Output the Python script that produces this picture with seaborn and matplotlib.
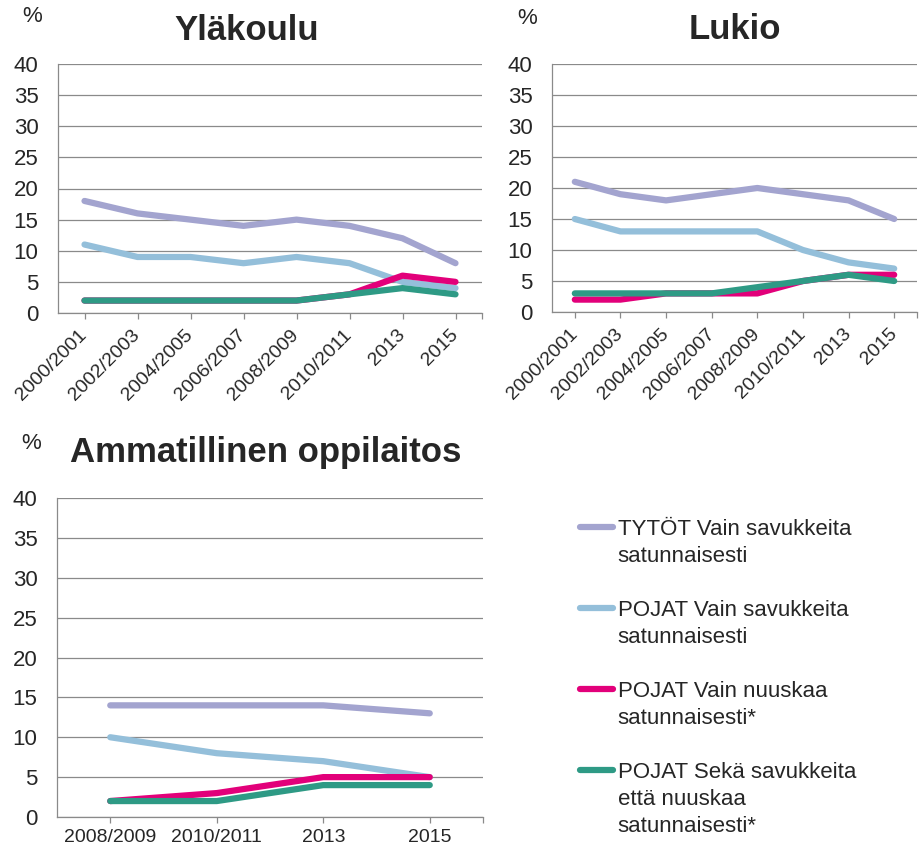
import numpy as np
import pandas as pd
import matplotlib
matplotlib.use("Agg")
import matplotlib.pyplot as plt
from matplotlib.lines import Line2D
import seaborn as sns

# --- values (%) ---
years_long = ["2000/2001", "2002/2003", "2004/2005", "2006/2007",
              "2008/2009", "2010/2011", "2013", "2015"]
years_short = ["2008/2009", "2010/2011", "2013", "2015"]

series_names = [
    "TYTÖT Vain savukkeita satunnaisesti",
    "POJAT Vain savukkeita satunnaisesti",
    "POJAT Vain nuuskaa satunnaisesti*",
    "POJAT Sekä savukkeita että nuuskaa satunnaisesti*",
]
legend_rows = [
    ["TYTÖT Vain savukkeita", "satunnaisesti"],
    ["POJAT Vain savukkeita", "satunnaisesti"],
    ["POJAT Vain nuuskaa", "satunnaisesti*"],
    ["POJAT Sekä savukkeita", "että nuuskaa", "satunnaisesti*"],
]
series_colors = ["#A3A4CF", "#94BFDA", "#E2007A", "#2E9A85"]

ylakoulu_tytot = [18, 16, 15, 14, 15, 14, 12, 8]
ylakoulu_pojat_savuke = [11, 9, 9, 8, 9, 8, 5, 4]
ylakoulu_pojat_nuuska = [2, 2, 2, 2, 2, 3, 6, 5]
ylakoulu_pojat_molemmat = [2, 2, 2, 2, 2, 3, 4, 3]

lukio_tytot = [21, 19, 18, 19, 20, 19, 18, 15]
lukio_pojat_savuke = [15, 13, 13, 13, 13, 10, 8, 7]
lukio_pojat_nuuska = [2, 2, 3, 3, 3, 5, 6, 6]
lukio_pojat_molemmat = [3, 3, 3, 3, 4, 5, 6, 5]

amm_tytot = [14, 14, 14, 13]
amm_pojat_savuke = [10, 8, 7, 5]
amm_pojat_nuuska = [2, 3, 5, 5]
amm_pojat_molemmat = [2, 2, 4, 4]

y_ticks = [0, 5, 10, 15, 20, 25, 30, 35, 40]


def long_frame(categories, series_values):
    rows = []
    for name, values in zip(series_names, series_values):
        for i, (cat, v) in enumerate(zip(categories, values)):
            rows.append({"pos": i, "year": cat, "series": name, "value": v})
    return pd.DataFrame(rows)


sns.set_theme(style="white")
plt.rcParams["font.family"] = ["Liberation Sans", "DejaVu Sans"]
text_col = "#262626"
grid_col = "#8A8A8A"
palette = dict(zip(series_names, series_colors))

fig = plt.figure(figsize=(9.22, 8.49), dpi=100)
W, H = 922, 849


def px_axes(left, top, right, bottom):
    return fig.add_axes([left / W, 1 - bottom / H, (right - left) / W, (bottom - top) / H])


def draw_panel(ax, categories, series_values, rotate):
    df = long_frame(categories, series_values)
    sns.lineplot(data=df, x="pos", y="value", hue="series", hue_order=series_names,
                 palette=palette, linewidth=4.5, legend=False, ax=ax,
                 solid_capstyle="round", solid_joinstyle="round")
    n = len(categories)
    ax.set_xlim(-0.5, n - 0.5)
    ax.set_ylim(0, 40)
    ax.set_yticks(y_ticks)
    ax.yaxis.grid(True, color=grid_col, linewidth=0.9)
    ax.set_axisbelow(True)
    for side in ["top", "right"]:
        ax.spines[side].set_visible(False)
    for side in ["left", "bottom"]:
        ax.spines[side].set_color(grid_col)
        ax.spines[side].set_linewidth(0.9)
    ax.set_xlabel("")
    ax.set_ylabel("")
    ax.tick_params(axis="y", length=0, pad=14, labelsize=16, labelcolor=text_col)
    ax.set_xticks(range(n))
    ax.set_xticks([n - 0.5], minor=True)
    ax.tick_params(axis="x", which="both", direction="out", length=4, width=0.9,
                   color=grid_col, bottom=True)
    if rotate:
        ax.set_xticklabels(categories, rotation=45, ha="right", va="center",
                           rotation_mode="anchor", fontsize=14, color=text_col)
        ax.tick_params(axis="x", pad=10)
    else:
        ax.set_xticklabels(categories, fontsize=14, color=text_col)
        ax.tick_params(axis="x", pad=5)


ax1 = px_axes(58, 64, 482, 313)
draw_panel(ax1, years_long, [ylakoulu_tytot, ylakoulu_pojat_savuke,
                             ylakoulu_pojat_nuuska, ylakoulu_pojat_molemmat], True)
ax1.set_title("Yläkoulu", fontsize=25, fontweight="bold", color=text_col, x=0.446, pad=17)

ax2 = px_axes(552, 64, 917, 312)
draw_panel(ax2, years_long, [lukio_tytot, lukio_pojat_savuke,
                             lukio_pojat_nuuska, lukio_pojat_molemmat], True)
ax2.set_title("Lukio", fontsize=25, fontweight="bold", color=text_col, x=0.5, pad=18)

ax3 = px_axes(57, 498, 483, 817)
draw_panel(ax3, years_short, [amm_tytot, amm_pojat_savuke,
                              amm_pojat_nuuska, amm_pojat_molemmat], False)
ax3.set_title("Ammatillinen oppilaitos", fontsize=25, fontweight="bold", color=text_col,
              x=0.49, pad=26)

for px, py in [(32, 17), (527, 18), (31, 443)]:
    fig.text(px / W, 1 - py / H, "%", fontsize=16, color=text_col, ha="center", va="center")

# legend: handle aligned with the first text line of each entry
handles, labels = [], []
for k, (rows, col) in enumerate(zip(legend_rows, series_colors)):
    for j, line in enumerate(rows):
        if j == 0:
            handles.append(Line2D([], [], color=col, linewidth=4.5, solid_capstyle="round"))
        else:
            handles.append(Line2D([], [], color="none"))
        labels.append(line)
    if k < len(legend_rows) - 1:
        handles.append(Line2D([], [], color="none"))
        labels.append(" ")

fig.legend(handles, labels, loc="upper left", bbox_to_anchor=(580 / W, 1 - 519 / H),
           frameon=False, borderpad=0, borderaxespad=0, fontsize=16,
           handlelength=1.5, handletextpad=0.2, labelspacing=0.27, labelcolor=text_col)

fig.savefig("out.png", dpi=100)
